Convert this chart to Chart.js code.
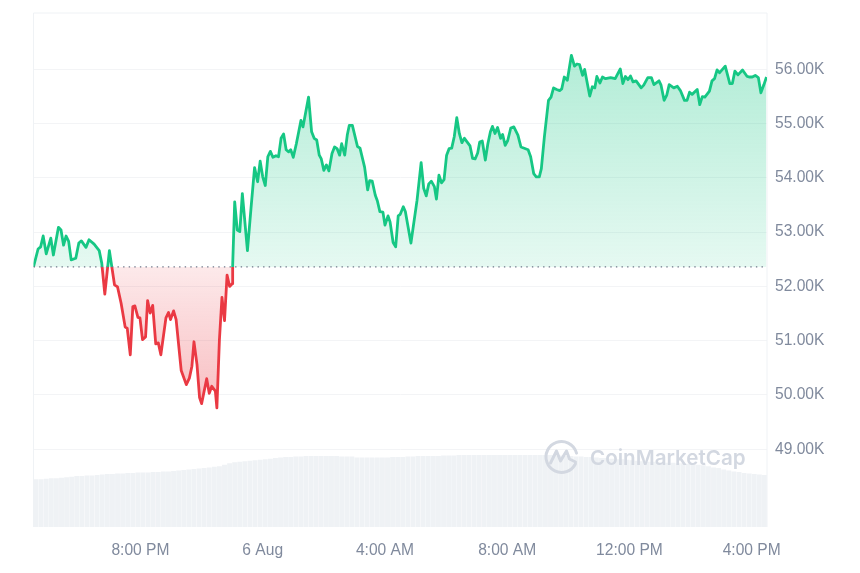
<!DOCTYPE html>
<html>
<head>
<meta charset="utf-8">
<title>BTC price chart</title>
<script src="https://cdn.jsdelivr.net/npm/chart.js@4"></script>
<style>
  html, body { margin: 0; padding: 0; background: #fff; }
  canvas { display: block; }
</style>
</head>
<body>
<canvas id="priceChart" width="860" height="573"></canvas>
<script>
// minutes after the 4:30 PM start, and price in thousands
const priceMinutes = [
  0, 9, 14, 19, 25, 34, 39, 49, 54, 59, 64, 69, 74, 83, 89, 94, 103, 109, 119, 129, 134, 140, 149, 159, 165, 172, 180, 184, 190, 195,
  199, 205, 209, 214, 220, 224, 229, 234, 240, 245, 250, 260, 265, 269, 275, 280, 290, 300, 306, 311, 315, 321, 326, 330, 340, 345, 350, 357, 360, 365,
  370, 375, 380, 385, 390, 391, 395, 400, 405, 410, 420, 427, 434, 440, 445, 450, 455, 460, 465, 470, 476, 481, 486, 491, 496, 501, 505, 510, 516, 520,
  525, 529, 540, 546, 551, 556, 561, 565, 570, 575, 580, 586, 591, 596, 601, 605, 611, 616, 620, 626, 636, 641, 650, 656, 660, 665, 671, 675, 680, 686,
  690, 696, 700, 706, 711, 716, 720, 726, 730, 741, 753, 761, 766, 771, 776, 781, 787, 791, 796, 801, 806, 811, 816, 821, 826, 831, 836, 841, 846, 857,
  862, 867, 872, 876, 881, 887, 892, 897, 901, 906, 911, 917, 921, 926, 931, 937, 943, 951, 957, 971, 976, 982, 987, 993, 997, 1003, 1011, 1016, 1021, 1027,
  1033, 1037, 1042, 1048, 1056, 1062, 1067, 1072, 1078, 1082, 1092, 1097, 1102, 1106, 1112, 1117, 1123, 1133, 1142, 1152, 1157, 1162, 1167, 1172, 1177, 1183, 1193, 1198, 1206, 1213,
  1218, 1228, 1232, 1238, 1243, 1248, 1257, 1264, 1270, 1278, 1283, 1288, 1293, 1303, 1308, 1313, 1318, 1327, 1332, 1337, 1342, 1347, 1358, 1367, 1372, 1377, 1383, 1392, 1401, 1406,
  1411, 1417, 1423, 1428, 1434, 1439
];
const priceValues = [
  52.36, 52.69, 52.73, 52.93, 52.60, 52.89, 52.58, 53.09, 53.04, 52.76, 52.93, 52.83, 52.49, 52.52, 52.80, 52.84, 52.72, 52.86, 52.78, 52.66, 52.43, 51.86, 52.66, 52.03, 51.99, 51.69, 51.25, 51.23, 50.74, 51.63,
  51.64, 51.43, 51.42, 51.02, 51.07, 51.74, 51.51, 51.65, 50.94, 50.96, 50.74, 51.42, 51.52, 51.39, 51.55, 51.39, 50.45, 50.19, 50.31, 50.53, 50.98, 50.56, 49.95, 49.84, 50.30, 50.03, 50.16, 50.07, 49.76, 51.02,
  51.80, 51.37, 52.21, 52.00, 52.05, 52.38, 53.56, 53.04, 53.01, 53.71, 52.66, 53.44, 54.19, 53.93, 54.31, 54.02, 53.86, 54.39, 54.49, 54.38, 54.41, 54.39, 54.73, 54.81, 54.52, 54.48, 54.52, 54.38, 54.63, 54.82,
  55.06, 54.94, 55.49, 54.85, 54.73, 54.70, 54.42, 54.35, 54.14, 54.24, 54.13, 54.45, 54.57, 54.54, 54.42, 54.63, 54.42, 54.79, 54.97, 54.97, 54.58, 54.55, 54.20, 53.78, 53.95, 53.94, 53.68, 53.58, 53.38, 53.37,
  53.13, 53.30, 53.19, 52.81, 52.73, 53.30, 53.33, 53.47, 53.38, 52.80, 53.59, 54.28, 53.81, 53.67, 53.89, 53.94, 53.84, 53.61, 54.05, 53.91, 53.97, 54.42, 54.54, 54.55, 54.76, 55.11, 54.82, 54.65, 54.73, 54.59,
  54.36, 54.35, 54.46, 54.66, 54.68, 54.33, 54.63, 54.85, 54.95, 54.82, 54.93, 54.73, 54.80, 54.60, 54.69, 54.92, 54.94, 54.79, 54.57, 54.52, 54.39, 54.08, 54.02, 54.02, 54.17, 54.76, 55.43, 55.49, 55.66, 55.63,
  55.61, 55.64, 55.86, 55.80, 56.26, 56.06, 56.10, 56.09, 55.89, 56.00, 55.51, 55.68, 55.66, 55.87, 55.75, 55.86, 55.83, 55.85, 55.83, 56.01, 55.74, 55.87, 55.81, 55.88, 55.77, 55.79, 55.66, 55.71, 55.85, 55.85,
  55.72, 55.79, 55.71, 55.43, 55.52, 55.72, 55.66, 55.69, 55.61, 55.43, 55.43, 55.58, 55.54, 55.63, 55.35, 55.50, 55.49, 55.60, 55.79, 55.83, 55.99, 55.94, 56.06, 55.74, 55.74, 55.97, 55.90, 55.99, 55.87, 55.86,
  55.86, 55.89, 55.85, 55.57, 55.72, 55.86
];
const baselinePrice = 52.36;

// 24h volume in billions, one bar per 10 minutes
const volumeValues = [
  93, 93, 94, 95, 95, 96, 97, 98, 99, 99, 100, 100, 101, 102, 103, 103, 104, 104, 105, 105, 106, 106, 106, 107,
  107, 108, 108, 109, 110, 111, 112, 113, 114, 115, 116, 117, 118, 121, 124, 126, 127, 128, 129, 130, 131, 132, 133, 134,
  135, 136, 136, 137, 137, 138, 138, 138, 138, 138, 138, 138, 137, 137, 137, 135, 135, 135, 135, 135, 135, 135, 136, 136,
  136, 137, 137, 138, 138, 138, 138, 138, 139, 139, 139, 140, 140, 140, 140, 140, 140, 140, 140, 140, 140, 140, 140, 140,
  140, 140, 140, 140, 140, 140, 139, 139, 138, 138, 137, 137, 136, 136, 135, 134, 134, 133, 132, 132, 131, 130, 129, 128,
  127, 127, 126, 126, 125, 125, 124, 124, 123, 122, 121, 120, 118, 116, 115, 112, 110, 108, 107, 105, 104, 103, 102, 101
];

const xTickMinutes = [210, 450, 690, 930, 1170, 1410];
const xTickLabels = ["8:00 PM", "6 Aug", "4:00 AM", "8:00 AM", "12:00 PM", "4:00 PM"];
const yTickValues = [49, 50, 51, 52, 53, 54, 55, 56];

const green = "#16c784";
const red = "#ea3943";
const tickColor = "#808a9d";
const tickFont = { family: "'Liberation Sans', Arial, sans-serif", size: 15.6 };

// thin frame on the left, top and right of the plot
const framePlugin = {
  id: "frame",
  beforeDatasetsDraw(chart) {
    const { ctx, chartArea: a } = chart;
    ctx.save();
    ctx.strokeStyle = "#eff2f5";
    ctx.lineWidth = 1;
    ctx.beginPath();
    ctx.moveTo(a.left, a.bottom);
    ctx.lineTo(a.left, a.top);
    ctx.lineTo(a.right, a.top);
    ctx.lineTo(a.right, a.bottom);
    ctx.stroke();
    ctx.restore();
  },
};

// faded logo and name in the lower right
const watermarkPlugin = {
  id: "watermark",
  afterDatasetsDraw(chart) {
    const { ctx } = chart;
    const cx = 561.5;
    const cy = 457;
    ctx.save();
    ctx.strokeStyle = "#d3d8e1";
    ctx.lineWidth = 3;
    ctx.lineCap = "round";
    ctx.lineJoin = "round";
    ctx.beginPath();
    ctx.arc(cx, cy, 15.5, 0.45, Math.PI * 2 - 0.25, false);
    ctx.stroke();
    ctx.beginPath();
    ctx.moveTo(cx - 11, cy + 6);
    ctx.lineTo(cx - 5, cy - 6);
    ctx.lineTo(cx - 1, cy + 4);
    ctx.lineTo(cx + 5, cy - 6);
    ctx.lineTo(cx + 8, cy + 2);
    ctx.lineTo(cx + 14, cy + 5);
    ctx.stroke();
    ctx.fillStyle = "#d3d8e1";
    ctx.font = "600 20.6px Inter, 'Liberation Sans', sans-serif";
    ctx.textBaseline = "middle";
    ctx.fillText("CoinMarketCap", 590, 459);
    ctx.restore();
  },
};

const chart = new Chart(document.getElementById("priceChart"), {
  data: {
    datasets: [
      {
        type: "line",
        label: "Price",
        yAxisID: "y",
        data: priceMinutes.map((m, i) => ({ x: m, y: priceValues[i] })),
        borderWidth: 2.8,
        borderJoinStyle: "round",
        pointRadius: 0,
        tension: 0,
        order: 1,
      },
      {
        type: "line",
        label: "Open",
        yAxisID: "y",
        data: [
          { x: 0, y: baselinePrice },
          { x: 1440, y: baselinePrice },
        ],
        borderColor: "#6f7789",
        borderWidth: 1.2,
        borderDash: [1.4, 4.2],
        pointRadius: 0,
        order: 0,
      },
      {
        type: "bar",
        label: "Volume",
        yAxisID: "yVol",
        data: volumeValues.map((v, i) => ({ x: 5 + i * 10, y: v })),
        backgroundColor: "#eff2f5",
        barPercentage: 0.96,
        categoryPercentage: 1,
        order: 2,
      },
    ],
  },
  options: {
    responsive: false,
    animation: false,
    layout: { padding: { left: 33.5, top: 13 } },
    plugins: { legend: { display: false }, tooltip: { enabled: false } },
    scales: {
      x: {
        type: "linear",
        offset: false,
        min: 0,
        max: 1440,
        grid: { display: false, drawTicks: false },
        border: { display: false },
        afterBuildTicks: (axis) => {
          axis.ticks = xTickMinutes.map((m) => ({ value: m }));
        },
        afterFit: (axis) => {
          axis.height = 46;
        },
        ticks: {
          autoSkip: false,
          maxRotation: 0,
          padding: 14,
          color: tickColor,
          font: tickFont,
          callback: (v) => xTickLabels[xTickMinutes.indexOf(v)],
        },
      },
      y: {
        position: "right",
        min: 47.566,
        max: 57.04,
        grid: { color: "#f3f4f6", drawTicks: false },
        border: { display: false },
        afterBuildTicks: (axis) => {
          axis.ticks = yTickValues.map((v) => ({ value: v }));
        },
        afterFit: (axis) => {
          axis.width = 93;
          axis.paddingTop = 0;
          axis.paddingBottom = 0;
        },
        ticks: {
          padding: 8,
          color: tickColor,
          font: tickFont,
          callback: (v) => v.toFixed(2) + "K",
        },
      },
      yVol: {
        display: false,
        min: 0,
        max: 1000,
      },
    },
  },
  plugins: [framePlugin, watermarkPlugin],
});

// colours depend on where the open price lands on the canvas
const ctx = chart.ctx;
const yScale = chart.scales.y;
const yBase = yScale.getPixelForValue(baselinePrice);
const yHigh = yScale.getPixelForValue(56.26);
const yLow = yScale.getPixelForValue(49.76);
const stop = (yBase - yHigh) / (yLow - yHigh);

const lineGradient = ctx.createLinearGradient(0, yHigh, 0, yLow);
lineGradient.addColorStop(0, green);
lineGradient.addColorStop(stop, green);
lineGradient.addColorStop(stop, red);
lineGradient.addColorStop(1, red);

const aboveGradient = ctx.createLinearGradient(0, yHigh, 0, yBase);
aboveGradient.addColorStop(0, "rgba(22, 199, 132, 0.33)");
aboveGradient.addColorStop(1, "rgba(22, 199, 132, 0.11)");

const belowGradient = ctx.createLinearGradient(0, yBase, 0, yLow);
belowGradient.addColorStop(0, "rgba(234, 57, 67, 0.11)");
belowGradient.addColorStop(1, "rgba(234, 57, 67, 0.33)");

chart.data.datasets[0].borderColor = lineGradient;
chart.data.datasets[0].fill = { value: baselinePrice, above: aboveGradient, below: belowGradient };
chart.update("none");
</script>
</body>
</html>
